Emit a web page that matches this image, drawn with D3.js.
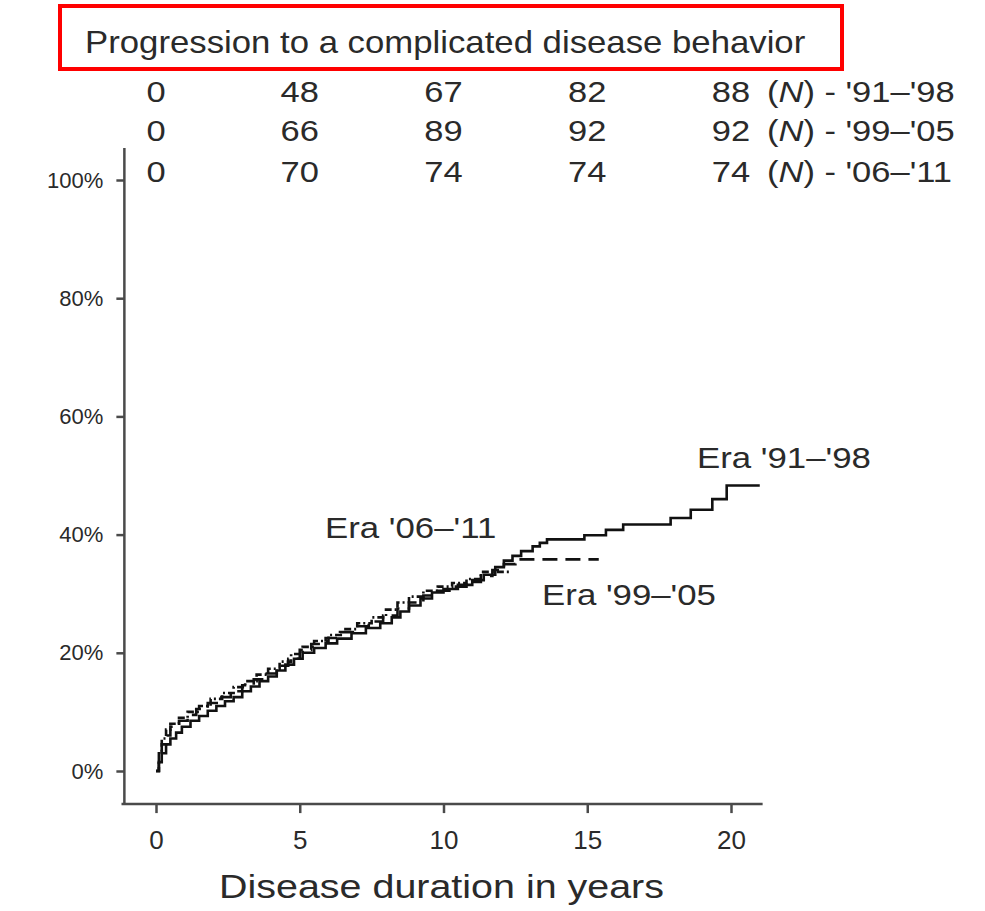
<!DOCTYPE html>
<html>
<head>
<meta charset="utf-8">
<script src="https://cdn.jsdelivr.net/npm/d3@7"></script>
<style>
  html, body { margin: 0; padding: 0; background: #fff; }
  svg { display: block; font-family: "Liberation Sans", Arial, Helvetica, sans-serif; }
</style>
</head>
<body>
<svg id="chart" width="985" height="911"></svg>
<script>
// ---- Data ----
const title = "Progression to a complicated disease behavior";
const xLabel = "Disease duration in years";
const xTicks = [0, 5, 10, 15, 20];
const yTicks = [0, 20, 40, 60, 80, 100];
const eraNames = ["'91\u2013'98", "'99\u2013'05", "'06\u2013'11"];

// Numbers at risk (N) at each x tick
const atRisk9198 = [0, 48, 67, 82, 88];
const atRisk9905 = [0, 66, 89, 92, 92];
const atRisk0611 = [0, 70, 74, 74, 74];

// Cumulative probability (%) step curves: [years, percent]
const era9198 = [[0,0],[0.1,1.5],[0.2,3],[0.35,4.5],[0.5,5.5],[0.7,6.5],[0.9,7.5],[1.2,8.5],[1.5,9.3],[1.8,10.2],[2.1,11],[2.4,11.8],[2.7,12.5],[3,13.5],[3.3,14.3],[3.6,15.2],[3.9,16],[4.2,17],[4.5,18],[4.8,19],[5.1,20],[5.5,20.8],[5.9,21.6],[6.3,22.4],[6.8,23.3],[7.3,24.2],[7.8,25],[8.2,26],[8.5,27],[8.8,28],[9.2,29.2],[9.6,30.2],[10,30.8],[10.5,31.5],[11,32.3],[11.4,33.2],[11.8,34.5],[12.1,35.6],[12.4,36.4],[12.7,37.2],[13.1,38],[13.35,38.6],[13.6,39.2],[14.9,39.9],[15.65,40.8],[16.25,41.7],[17.9,42.8],[18.6,44.2],[19.35,46.0],[19.85,48.3],[21.0,48.3]];
const era9905 = [[0,0],[0.1,2.5],[0.2,4.5],[0.35,6],[0.5,7.5],[0.8,8.5],[1.1,9.5],[1.4,10.5],[1.8,11.5],[2.2,12.5],[2.6,13.5],[3,14.5],[3.4,15.5],[3.8,16.5],[4.2,17.8],[4.6,19],[5,20.5],[5.4,21.5],[5.9,22.5],[6.4,23.5],[6.9,24.5],[7.4,25.3],[7.9,26.3],[8.4,27.5],[8.8,28.5],[9.3,29.7],[9.8,30.5],[10.3,31.2],[10.8,32],[11.3,33],[11.7,34],[12.1,35],[12.5,35.8],[15.4,35.8]];
const era0611 = [[0,0],[0.1,3],[0.2,5.5],[0.35,7],[0.5,8],[0.8,9],[1.1,10],[1.5,11],[1.9,12.2],[2.3,13.2],[2.7,14.2],[3.1,15.2],[3.5,16.3],[3.9,17.3],[4.3,18.5],[4.7,19.8],[5.1,21],[5.5,22],[6,23],[6.5,24],[7,25],[7.5,26],[8,27.3],[8.4,28.5],[8.8,29.5],[9.3,30.5],[9.8,31.2],[10.3,31.8],[10.8,32.5],[11.3,33.7],[12.3,33.7]];

// ---- Layout ----
const svg = d3.select("#chart");
const x = d3.scaleLinear().domain([0, 20]).range([156, 731]);
const y = d3.scaleLinear().domain([0, 100]).range([771, 180]);
const axisColor = "#4a4a4a";
const textColor = "#2a2a2a";

// helper: text stretched horizontally around its anchor
function stretched(sel, px, py, sx) {
  return sel.attr("transform", `translate(${px},${py}) scale(${sx},1)`);
}

// Title with red box
svg.append("rect")
  .attr("x", 60).attr("y", 6).attr("width", 782).attr("height", 63)
  .attr("fill", "none").attr("stroke", "#ff0000").attr("stroke-width", 4);
stretched(svg.append("text"), 85, 53, 1.086)
  .attr("font-size", 32).attr("fill", textColor)
  .text(title);

// Numbers at risk
const rows = [atRisk9198, atRisk9905, atRisk0611];
const rowBase = [102, 141, 182];
const numStretch = 1.15;
rows.forEach((row, i) => {
  const g = svg.append("g").attr("font-size", 30).attr("fill", textColor);
  g.selectAll("text.n").data(row).join("text")
    .attr("class", "n")
    .attr("transform", (d, j) => `translate(${x(xTicks[j])},${rowBase[i]}) scale(${numStretch},1)`)
    .attr("text-anchor", "middle")
    .text(d => d);
  const t = stretched(g.append("text"), x(20) + 36, rowBase[i], numStretch);
  t.append("tspan").text("(");
  t.append("tspan").attr("font-style", "italic").text("N");
  t.append("tspan").text(") - " + eraNames[i]);
});

// Y axis
const yAxis = d3.axisLeft(y).tickValues(yTicks).tickSize(8).tickPadding(13)
  .tickFormat(d => d + "%");
const gy = svg.append("g").attr("transform", `translate(${x(-1.1)},0)`).call(yAxis);
gy.select(".domain").remove();
gy.append("line").attr("y1", y(-5.75)).attr("y2", y(105.4))
  .attr("stroke", axisColor).attr("stroke-width", 2.5);
gy.selectAll(".tick line").attr("stroke", axisColor).attr("stroke-width", 2.5);
gy.selectAll(".tick text").attr("font-size", 22).attr("fill", textColor)
  .attr("font-family", "'Liberation Sans', Arial, sans-serif");

// X axis
const xAxis = d3.axisBottom(x).tickValues(xTicks).tickSize(9).tickPadding(17);
const gx = svg.append("g").attr("transform", `translate(0,${y(-5.6)})`).call(xAxis);
gx.select(".domain").remove();
gx.append("line").attr("x1", x(-1.2)).attr("x2", x(21.1))
  .attr("stroke", axisColor).attr("stroke-width", 2.5);
gx.selectAll(".tick line").attr("stroke", axisColor).attr("stroke-width", 2.5);
gx.selectAll(".tick text").attr("font-size", 26).attr("fill", textColor)
  .attr("font-family", "'Liberation Sans', Arial, sans-serif");

stretched(svg.append("text"), x(10) - 2, 898, 1.16)
  .attr("text-anchor", "middle").attr("font-size", 34).attr("fill", textColor)
  .text(xLabel);

// Curves
const line = d3.line().x(d => x(d[0])).y(d => y(d[1])).curve(d3.curveStepAfter);
const series = [
  { data: era0611, dash: "7,3,2,3" },
  { data: era9905, dash: "15,8" },
  { data: era9198, dash: null }
];
series.forEach(s => {
  svg.append("path").datum(s.data)
    .attr("d", line)
    .attr("fill", "none").attr("stroke", "#111").attr("stroke-width", 2.6)
    .attr("stroke-dasharray", s.dash);
});

// Series labels
const labels = [
  { t: "Era " + eraNames[0], px: 18.82, py: 51.3 },
  { t: "Era " + eraNames[2], px: 5.88, py: 39.4 },
  { t: "Era " + eraNames[1], px: 13.43, py: 28.1 }
];
svg.selectAll("text.era").data(labels).join("text")
  .attr("class", "era")
  .attr("transform", d => `translate(${x(d.px)},${y(d.py)}) scale(1.2,1)`)
  .attr("font-size", 29).attr("fill", textColor)
  .text(d => d.t);
</script>
</body>
</html>
